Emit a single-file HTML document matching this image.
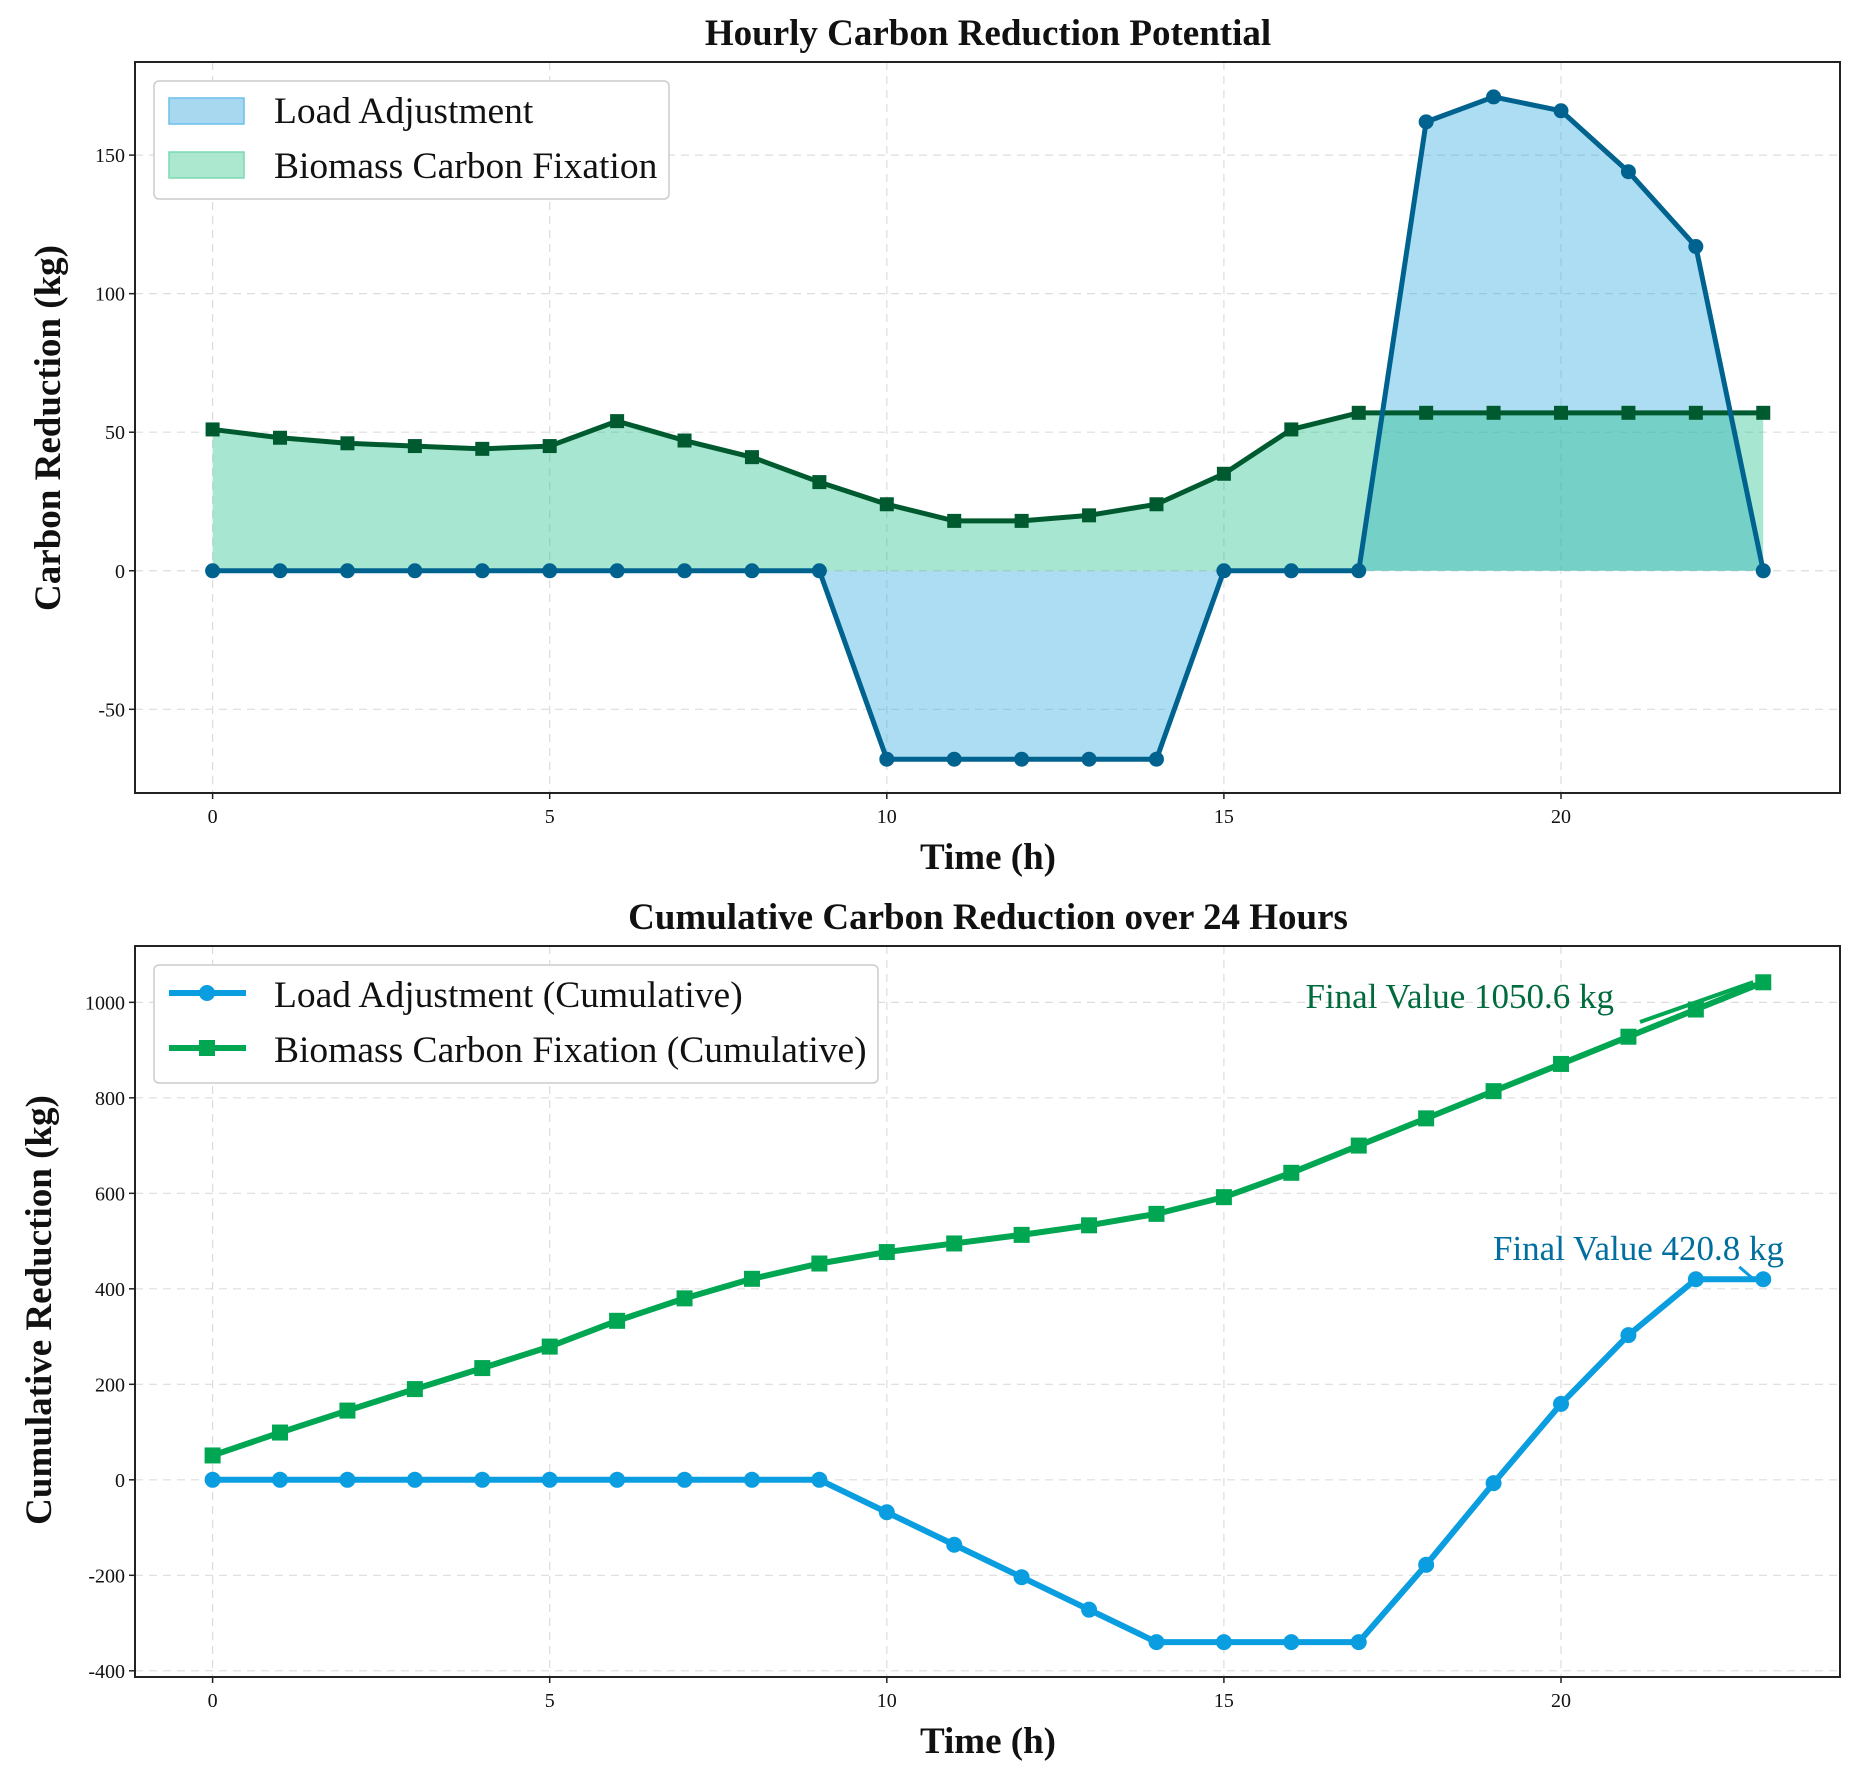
<!DOCTYPE html>
<html><head><meta charset="utf-8"><style>
html,body{margin:0;padding:0;background:#fff;}
svg{display:block;font-family:"Liberation Serif",serif;}
</style></head><body>
<svg id="c" width="1863" height="1781" viewBox="0 0 1863 1781"></svg>
<script>
const hours=[0,1,2,3,4,5,6,7,8,9,10,11,12,13,14,15,16,17,18,19,20,21,22,23];
const loadAdj=[0,0,0,0,0,0,0,0,0,0,-68,-68,-68,-68,-68,0,0,0,162,171,166,144,117,0];
const biomass=[51,48,46,45,44,45,54,47,41,32,24,18,18,20,24,35,51,57,57,57,57,57,57,57];
const loadCum=[0,0,0,0,0,0,0,0,0,0,-68,-136,-204,-272,-340,-340,-340,-340,-178,-7,159,303,420,420];
const bioCum=[51,99,145,190,234,279,333,380,421,453,477,495,513,533,557,592,643,700,757,814,871,928,985,1042];
const xTicks=[0,5,10,15,20];
const yTicksTop=[-50,0,50,100,150];
const yTicksBot=[-400,-200,0,200,400,600,800,1000];
const finalBio=1050.6, finalLoad=420.8;

const NS="http://www.w3.org/2000/svg";
const svg=document.getElementById('c');
function el(tag,attrs,parent){const e=document.createElementNS(NS,tag);for(const k in attrs)e.setAttribute(k,attrs[k]);(parent||svg).appendChild(e);return e;}
function txt(s,attrs,parent){const e=el('text',attrs,parent);e.textContent=s;return e;}

const L=135,R=1840;
const xs=h=>212.6+h*67.42;
function panel(top,bottom,ymin,ymax,yticks,name){
  const g=el('g',{});
  
  
  const ys=v=>bottom-(v-ymin)/(ymax-ymin)*(bottom-top);
  el('rect',{x:L,y:top,width:R-L,height:bottom-top,fill:'#fff'},g);
  xTicks.forEach(t=>{
    const gl=el('line',{x1:xs(t),x2:xs(t),y1:top,y2:bottom,stroke:'#ddd','stroke-dasharray':'8,6','stroke-width':1.2},g);
    
    
    el('line',{x1:xs(t),x2:xs(t),y1:bottom,y2:bottom+6,stroke:'#222','stroke-width':1.5},g);
    const tl=txt(String(t),{x:xs(t),y:bottom+30,'text-anchor':'middle','font-size':20,fill:'#111'},g);
    
    
  });
  yticks.forEach(t=>{
    const gl=el('line',{x1:L,x2:R,y1:ys(t),y2:ys(t),stroke:'#ddd','stroke-dasharray':'8,6','stroke-width':1.2},g);
    
    
    el('line',{x1:L-6,x2:L,y1:ys(t),y2:ys(t),stroke:'#222','stroke-width':1.5},g);
    const tl=txt(String(t),{x:L-10,y:ys(t)+7,'text-anchor':'end','font-size':20,fill:'#111'},g);
    
    
  });
  return {g,ys};
}
function poly(vals,ys){return vals.map((v,i)=>xs(hours[i])+','+ys(v)).join(' ');}
function area(vals,ys){return xs(hours[0])+','+ys(0)+' '+poly(vals,ys)+' '+xs(hours[hours.length-1])+','+ys(0);}
function markers(vals,ys,shape,size,color,parent,name){
  vals.forEach((v,i)=>{
    let m;
    if(shape==='c') m=el('circle',{cx:xs(hours[i]),cy:ys(v),r:size,fill:color},parent);
    else m=el('rect',{x:xs(hours[i])-size,y:ys(v)-size,width:size*2,height:size*2,fill:color},parent);
    
    
  });
}

// ---- Top panel ----
const T1=62,B1=793;
const p1=panel(T1,B1,-80.2,183.6,yTicksTop,'hourly-chart');
let a=el('polygon',{points:area(loadAdj,p1.ys),fill:'#3aaee0','fill-opacity':0.42},p1.g);


a=el('polygon',{points:area(biomass,p1.ys),fill:'#22c08a','fill-opacity':0.4},p1.g);


let ln=el('polyline',{points:poly(biomass,p1.ys),fill:'none',stroke:'#005a30','stroke-width':5,'stroke-linejoin':'round'},p1.g);


markers(biomass,p1.ys,'s',7,'#005a30',p1.g,'biomass-point');
ln=el('polyline',{points:poly(loadAdj,p1.ys),fill:'none',stroke:'#00628f','stroke-width':5,'stroke-linejoin':'round'},p1.g);


markers(loadAdj,p1.ys,'c',7.5,'#00628f',p1.g,'load-adjustment-point');
el('rect',{x:L,y:T1,width:R-L,height:B1-T1,fill:'none',stroke:'#222','stroke-width':2},p1.g);
// legend
let lg=el('g',{},p1.g);


el('rect',{x:154,y:81,width:515,height:118,rx:5,fill:'#fff',stroke:'#ccc','stroke-width':1.5},lg);
el('rect',{x:169,y:98,width:75,height:26,fill:'#a8d8f0',stroke:'#6cc0ea','stroke-width':1.5},lg);
el('rect',{x:169,y:152,width:75,height:26,fill:'#abe8cf',stroke:'#7dd9b0','stroke-width':1.5},lg);
let t=txt('Load Adjustment',{x:274,y:123,'font-size':37.5,fill:'#111'},lg);

t=txt('Biomass Carbon Fixation',{x:274,y:178,'font-size':37.5,fill:'#111'},lg);

t=txt('Hourly Carbon Reduction Potential',{x:988,y:45,'text-anchor':'middle','font-size':37,'font-weight':'bold',fill:'#111'});

t=txt('Time (h)',{x:988,y:869,'text-anchor':'middle','font-size':37,'font-weight':'bold',fill:'#111'});

t=txt('Carbon Reduction (kg)',{x:0,y:0,'text-anchor':'middle','font-size':37,'font-weight':'bold',fill:'#111',transform:'translate(60,428) rotate(-90)'});


// ---- Bottom panel ----
const T2=946,B2=1677;
const p2=panel(T2,B2,-413,1118,yTicksBot,'cumulative-chart');
ln=el('polyline',{points:poly(bioCum,p2.ys),fill:'none',stroke:'#00a651','stroke-width':6,'stroke-linejoin':'round'},p2.g);


markers(bioCum,p2.ys,'s',8,'#00a651',p2.g,'biomass-cumulative-point');
ln=el('polyline',{points:poly(loadCum,p2.ys),fill:'none',stroke:'#0a9ee0','stroke-width':6,'stroke-linejoin':'round'},p2.g);


markers(loadCum,p2.ys,'c',8,'#0a9ee0',p2.g,'load-cumulative-point');
// annotations
const lastX=xs(hours[23]);
el('line',{x1:1640,y1:1022,x2:lastX-10,y2:p2.ys(finalBio)+4,stroke:'#00a651','stroke-width':4},p2.g);
t=txt('Final Value '+finalBio+' kg',{x:1614,y:1008,'text-anchor':'end','font-size':35,fill:'#006b3c'},p2.g);

el('line',{x1:lastX-40,y1:p2.ys(finalLoad),x2:lastX-8,y2:p2.ys(finalLoad),stroke:'#0a9ee0','stroke-width':4},p2.g);
el('polyline',{points:(lastX-24)+','+(p2.ys(finalLoad)-12)+' '+(lastX-10)+','+p2.ys(finalLoad),fill:'none',stroke:'#0a9ee0','stroke-width':3},p2.g);
t=txt('Final Value '+finalLoad+' kg',{x:1784,y:1260,'text-anchor':'end','font-size':35,fill:'#006e9e'},p2.g);

el('rect',{x:L,y:T2,width:R-L,height:B2-T2,fill:'none',stroke:'#222','stroke-width':2},p2.g);
lg=el('g',{},p2.g);


el('rect',{x:154,y:965,width:724,height:118,rx:5,fill:'#fff',stroke:'#ccc','stroke-width':1.5},lg);
el('line',{x1:169,x2:246,y1:993,y2:993,stroke:'#0a9ee0','stroke-width':6},lg);
el('circle',{cx:207,cy:993,r:8,fill:'#0a9ee0'},lg);
el('line',{x1:169,x2:246,y1:1048,y2:1048,stroke:'#00a651','stroke-width':6},lg);
el('rect',{x:199,y:1040,width:16,height:16,fill:'#00a651'},lg);
t=txt('Load Adjustment (Cumulative)',{x:274,y:1007,'font-size':37.5,fill:'#111'},lg);

t=txt('Biomass Carbon Fixation (Cumulative)',{x:274,y:1062,'font-size':37.5,fill:'#111'},lg);

t=txt('Cumulative Carbon Reduction over 24 Hours',{x:988,y:929,'text-anchor':'middle','font-size':37,'font-weight':'bold',fill:'#111'});

t=txt('Time (h)',{x:988,y:1753,'text-anchor':'middle','font-size':37,'font-weight':'bold',fill:'#111'});

t=txt('Cumulative Reduction (kg)',{x:0,y:0,'text-anchor':'middle','font-size':37,'font-weight':'bold',fill:'#111',transform:'translate(51,1310) rotate(-90)'});

</script>
</body></html>
